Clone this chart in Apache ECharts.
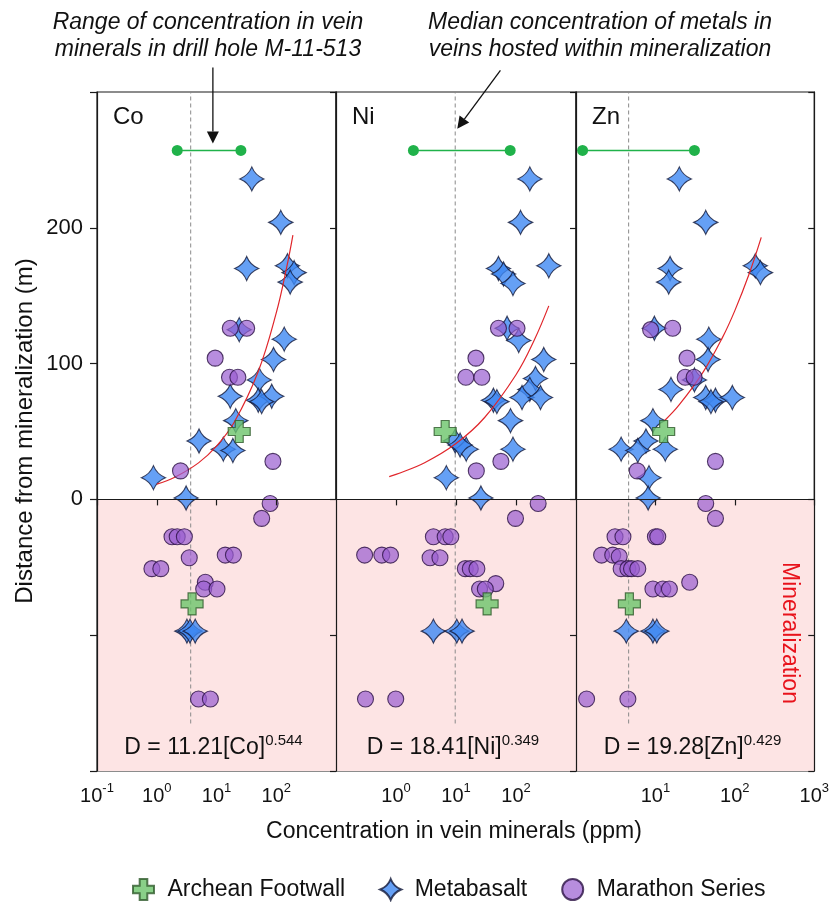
<!DOCTYPE html>
<html>
<head>
<meta charset="utf-8">
<script src="https://cdn.jsdelivr.net/npm/echarts@6/dist/echarts.min.js"></script>
<style>
  html, body { margin: 0; padding: 0; background: #fff; }
  #chart { width: 832px; height: 902px; }
</style>
</head>
<body>
<div id="chart"></div>
<script>
const FONT = '"Liberation Sans", Arial, Helvetica, sans-serif'

// panels
const metals = ['Co', 'Ni', 'Zn']
const eqCoef = ['11.21', '18.41', '19.28']
const eqExp = ['0.544', '0.349', '0.429']
const xMin = [0.1, 0.1, 1]
const xMax = [1000, 1000, 1000]
const yMin = -200
const yMax = 300
const yTickLabels = [0, 100, 200]
const mineralTop = 0

// median concentration in veins within mineralization (dashed line)
const medians = [3.7, 9.7, 4.6]
const medianSpan = [-165, 300]

// range of concentration in drill hole M-11-513
const ranges = [[2.2, 25.6], [1.95, 80], [1.21, 31]]
const rangeDepth = 257

// annotation arrows [from, to] in data units of panel 0 and panel 1
const coArrow = [[8.7, 318], [8.7, 262]]
const niArrow = [[55, 316], [10.5, 273]]

// Archean Footwall [ppm, m]
const coCross = [[24, 50], [3.9, -77]]
const niCross = [[6.6, 50], [33, -77]]
const znCross = [[12.7, 50], [4.7, -77]]

// Metabasalt
const coStar = [[39, 236], [119, 204], [32, 170], [154, 172], [199, 167], [171, 160], [24, 125], [136, 118],
  [90, 103], [52, 88], [17, 76], [50, 73], [84, 76], [57, 72], [21, 58], [5.1, 43], [13, 37], [18.8, 36],
  [0.88, 16], [3.1, 1], [3.2, -97], [3.6, -97], [4.4, -97]]
const niStar = [[170, 236], [119, 204], [352, 172], [51, 170], [62, 166], [89, 159], [71, 126], [111, 117],
  [290, 103], [211, 89], [170, 81], [126, 75], [256, 75], [42, 73], [48, 72], [81, 58], [89, 37], [9.7, 43],
  [14.8, 37], [11.7, 40], [6.9, 16], [26, 1], [4.2, -97], [10.3, -97], [12.6, -97]]
const znStar = [[20, 236], [43, 204], [15.3, 170], [14.7, 160], [181, 172], [210, 167], [9.7, 126], [47, 118],
  [46, 103], [31, 88], [15.7, 81], [43, 75], [57, 73], [93, 75], [50, 72], [9.3, 58], [7.6, 43], [3.7, 37],
  [6.0, 36], [13.3, 37], [8.3, 16], [8.1, 1], [4.3, -97], [9.3, -97], [10.4, -97]]

// Marathon Series
const coCircle = [[17, 126], [32, 126], [9.5, 104], [16.5, 90], [22.8, 90], [88, 28], [2.5, 21], [79, -3],
  [57, -14], [1.8, -27.5], [2.2, -27.5], [2.9, -27.5], [3.5, -43], [14, -41], [19.2, -41], [0.83, -51],
  [1.17, -51], [6.5, -61], [6.1, -66], [10.2, -66], [5.0, -147], [7.9, -147]]
const niCircle = [[51, 126], [104, 126], [21.5, 104], [14.6, 90], [27, 90], [56, 28], [21.8, 21], [234, -3],
  [98, -14], [4.2, -27.5], [6.6, -27.5], [8.2, -27.5], [0.30, -41], [0.58, -41], [0.81, -41], [3.7, -43],
  [5.4, -43], [14.3, -51], [17.3, -51], [22.3, -51], [46, -62], [24.7, -66], [30.8, -66], [0.31, -147], [0.99, -147]]
const znCircle = [[8.7, 125], [16.5, 126], [25, 104], [23.7, 90], [30.7, 90], [57, 28], [5.9, 21], [43, -3],
  [57, -14], [3.1, -27.5], [3.9, -27.5], [10, -27.5], [10.7, -27.5], [2.1, -41], [2.9, -41], [3.5, -42],
  [3.7, -51], [4.5, -51], [5.0, -51], [6.0, -51], [9.3, -66], [12.4, -66], [15, -66], [27, -61], [1.36, -147], [4.5, -147]]

// fitted curves
const coFit = [[1, 11.2], [2, 16.3], [5, 26.9], [10, 39.2], [20, 57.2], [50, 94.2], [100, 137.3], [150, 171.2], [190, 194.6]]
const niFit = [[0.77, 16.8], [1, 18.4], [3, 27], [10, 41.1], [30, 60.3], [100, 91.8], [200, 117], [352, 142.5]]
const znFit = [[13, 57.9], [20, 69.7], [40, 93.9], [70, 119.3], [100, 139], [150, 165.4], [215, 193]]

const crosses = [coCross, niCross, znCross]
const stars = [coStar, niStar, znStar]
const circles = [coCircle, niCircle, znCircle]
const fits = [coFit, niFit, znFit]

const gridLeft = [97, 336, 576]
const gridWidth = [239, 240, 239]
const yAxisOf = [0, 2, 3]

const STAR = 'path://M0,-12Q3.4,-3.4,12,0Q3.4,3.4,0,12Q-3.4,3.4,-12,0Q-3.4,-3.4,0,-12Z'
const PLUS = 'path://M7,0H15V7H22V15H15V22H7V15H0V7H7Z'

const chart = echarts.init(document.getElementById('chart'))

const grids = gridLeft.map((l, i) => ({
  left: l, top: 92, width: gridWidth[i], height: 679,
  show: true, borderColor: '#1a1a1a', borderWidth: 1.2, backgroundColor: 'transparent'
}))

const xAxes = metals.map((m, i) => ({
  type: 'log', logBase: 10, gridIndex: i, min: xMin[i], max: xMax[i],
  axisLine: { show: true, lineStyle: { color: '#1a1a1a', width: 1.2 } },
  axisTick: { show: true, inside: false, length: 6, lineStyle: { color: '#1a1a1a', width: 1.2 } },
  splitLine: { show: false },
  z: 10,
  axisLabel: {
    showMinLabel: i === 0,
    showMaxLabel: i === 2,
    margin: 11,
    color: '#111', fontFamily: FONT, fontSize: 20, lineHeight: 28,
    formatter: v => '10{s|' + Math.round(Math.log10(v)) + '}',
    rich: { s: { fontSize: 13, lineHeight: 13, verticalAlign: 'top', fontFamily: FONT, color: '#111' } }
  }
}))

const yBase = {
  type: 'value', min: yMin, max: yMax, interval: 100,
  splitLine: { show: false }, z: 10,
  axisLine: { show: true, lineStyle: { color: '#1a1a1a', width: 1.2 } }
}
const yAxes = [
  Object.assign({}, yBase, {
    gridIndex: 0, position: 'left',
    axisTick: { show: true, length: 7, lineStyle: { color: '#1a1a1a', width: 1.2 } },
    axisLabel: {
      margin: 14, color: '#111', fontFamily: FONT, fontSize: 22,
      formatter: v => (yTickLabels.indexOf(v) >= 0 ? String(v) : '')
    }
  })
]
for (let i = 0; i < 3; i++) {
  yAxes.push(Object.assign({}, yBase, {
    gridIndex: i, position: 'right',
    axisTick: { show: true, inside: true, length: 6, lineStyle: { color: '#1a1a1a', width: 1.2 } },
    axisLabel: { show: false }
  }))
}

const series = []
for (let i = 0; i < 3; i++) {
  const ax = { xAxisIndex: i, yAxisIndex: yAxisOf[i] }
  // mineralization band
  series.push(Object.assign({
    type: 'line', name: 'band', data: [], silent: true, z: 1,
    markArea: {
      silent: true, itemStyle: { color: '#fde4e4' },
      data: [[{ xAxis: xMin[i], yAxis: yMin }, { xAxis: xMax[i], yAxis: mineralTop }]]
    }
  }, ax))
  // median line
  series.push(Object.assign({
    type: 'line', name: 'median', silent: true, z: 2, symbol: 'none',
    data: [[medians[i], medianSpan[0]], [medians[i], medianSpan[1]]],
    lineStyle: { color: '#8a8a8a', width: 1, type: [4, 3] }
  }, ax))
  // range line
  series.push(Object.assign({
    type: 'line', name: 'range', silent: true, z: 3, symbol: 'circle', symbolSize: 11,
    data: [[ranges[i][0], rangeDepth], [ranges[i][1], rangeDepth]],
    itemStyle: { color: '#20b24a' }, lineStyle: { color: '#20b24a', width: 1.5 }
  }, ax))
  series.push(Object.assign({
    type: 'scatter', name: 'Metabasalt', z: 4, symbol: STAR, symbolSize: 24, data: stars[i],
    itemStyle: { color: '#3f88f2', borderColor: '#111838', borderWidth: 1.1 }
  }, ax))
  series.push(Object.assign({
    type: 'line', name: 'fit', silent: true, z: 5, symbol: 'none', smooth: 0.4, data: fits[i],
    lineStyle: { color: '#e0262b', width: 1.2 }
  }, ax))
  series.push(Object.assign({
    type: 'scatter', name: 'Marathon Series', z: 6, symbol: 'circle', symbolSize: 16, data: circles[i],
    itemStyle: { color: 'rgba(152, 92, 208, 0.88)', borderColor: '#2a1044', borderWidth: 1.1 }
  }, ax))
  series.push(Object.assign({
    type: 'scatter', name: 'Archean Footwall', z: 7, symbol: PLUS, symbolSize: 22, data: crosses[i],
    itemStyle: { color: '#6cc46a', borderColor: '#2f5a2c', borderWidth: 1.2 }
  }, ax))
}

chart.setOption({
  backgroundColor: '#fff',
  animation: false,
  textStyle: { fontFamily: FONT },
  grid: grids,
  xAxis: xAxes,
  yAxis: yAxes,
  legend: {
    data: ['Archean Footwall', 'Metabasalt', 'Marathon Series'],
    left: 127, top: 873, itemWidth: 38, itemHeight: 21, itemGap: 34,
    symbolKeepAspect: true, selectedMode: false,
    textStyle: { fontSize: 23, color: '#111', fontFamily: FONT }
  },
  series: series
})

// texts and arrows
const txt = (x, y, text, extra) => ({
  type: 'text', x: x, y: y, silent: true, z: 100,
  style: Object.assign({
    text: text, fill: '#111', fontFamily: FONT, fontSize: 22,
    align: 'center', verticalAlign: 'middle', textAlign: 'center', textVerticalAlign: 'middle'
  }, extra || {})
})

const graphics = []
metals.forEach((m, i) => {
  graphics.push(txt(gridLeft[i] + 16, 117, m, { fontSize: 24, align: 'left', textAlign: 'left' }))
  graphics.push(txt(gridLeft[i] + gridWidth[i] / 2 - 3, 748, 'D = ' + eqCoef[i] + '[' + m + ']{s|' + eqExp[i] + '}', {
    fontSize: 23, lineHeight: 30,
    rich: { s: { fontSize: 15, lineHeight: 15, verticalAlign: 'top', fontFamily: FONT, fill: '#111' } }
  }))
})

graphics.push(txt(208, 36, 'Range of concentration in vein\nminerals in drill hole M-11-513',
  { fontSize: 23, fontStyle: 'italic', lineHeight: 27 }))
graphics.push(txt(600, 36, 'Median concentration of metals in\nveins hosted within mineralization',
  { fontSize: 23, fontStyle: 'italic', lineHeight: 27 }))
graphics.push(txt(454, 832, 'Concentration in vein minerals (ppm)', { fontSize: 23 }))
graphics.push(Object.assign(txt(25, 431, 'Distance from mineralization (m)', { fontSize: 24 }), { rotation: Math.PI / 2 }))
graphics.push(Object.assign(txt(789, 633, 'Mineralization', { fontSize: 23, fill: '#e8121b' }), { rotation: -Math.PI / 2 }))

const arrow = (panel, seg) => {
  const ax = { xAxisIndex: panel, yAxisIndex: yAxisOf[panel] }
  const p0 = chart.convertToPixel(ax, seg[0])
  const p1 = chart.convertToPixel(ax, seg[1])
  const dx = p1[0] - p0[0], dy = p1[1] - p0[1]
  const len = Math.sqrt(dx * dx + dy * dy)
  const ux = dx / len, uy = dy / len
  const bx = p1[0] - ux * 12, by = p1[1] - uy * 12
  graphics.push({
    type: 'line', silent: true, z: 100,
    shape: { x1: p0[0], y1: p0[1], x2: bx, y2: by },
    style: { stroke: '#111', lineWidth: 1.3 }
  })
  graphics.push({
    type: 'polygon', silent: true, z: 100,
    shape: { points: [[p1[0], p1[1]], [bx - uy * 6, by + ux * 6], [bx + uy * 6, by - ux * 6]] },
    style: { fill: '#111' }
  })
}
arrow(0, coArrow)
arrow(1, niArrow)

chart.setOption({ graphic: graphics })
</script>
</body>
</html>
